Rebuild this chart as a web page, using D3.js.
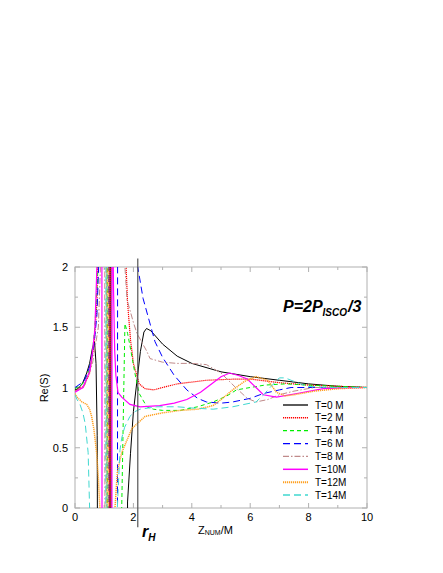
<!DOCTYPE html>
<html lang="en">
<head>
<meta charset="utf-8">
<script src="https://d3js.org/d3.v7.min.js"></script>
<style>
  body { margin: 0; background: #fff; }
  text { font-family: "Liberation Sans", Arial, sans-serif; }
</style>
</head>
<body>
<script>
// values; +/-3 marks a branch that runs off the plot (pole)
var t0x = [0,0.1,0.25,0.4,0.5,0.6,0.67,0.72,0.76,0.8,1.19,1.2,1.23,1.24,1.76,1.8,1.9,2.0,2.12,2.24,2.36,2.45,2.6,3.0,3.5,4.0,5.0,6.0,7.0,8.0,9.0,10];
var t0y = [0.98,0.99,1.03,1.12,1.2,1.33,1.38,1.2,0.6,-3,-3,3,3,-3,-3,0.05,0.45,0.8,1.05,1.3,1.46,1.49,1.47,1.36,1.26,1.2,1.13,1.09,1.06,1.03,1.01,1.0];

var t2x = [0,0.3,0.5,0.65,0.75,0.82,1.17,1.18,1.21,1.22,1.7,1.75,1.8,1.9,2.0,2.2,2.4,2.7,3.0,3.5,4.5,5.5,6.0,7.0,8.0,9.0,10];
var t2y = [0.97,1.01,1.12,1.35,1.7,3,3,-3,-3,3,3,2.0,1.7,1.4,1.2,1.03,0.99,0.98,1.0,1.03,1.06,1.07,1.07,1.04,1.02,1.01,1.0];

var t4x = [0,0.3,0.5,0.6,0.68,0.79,0.83,1.11,1.12,1.56,1.6,1.65,1.71,1.8,1.88,2.05,2.2,2.46,2.68,3.0,3.6,4.2,4.73,5.2,5.53,6.0,6.5,7.2,8.0,9.0,10];
var t4y = [0.99,1.04,1.15,1.3,1.5,2.0,3,3,-3,-3,0.0,0.7,1.53,1.45,1.35,1.12,0.95,0.84,0.82,0.81,0.81,0.84,0.88,0.93,0.98,1.0,1.02,1.03,1.02,1.01,1.0];

var t6x = [0,0.3,0.5,0.65,0.75,0.81,0.84,1.15,1.16,1.45,1.46,2.1,2.15,2.33,2.74,3.0,3.4,3.83,4.2,4.5,5.0,5.4,6.0,6.45,7.0,7.4,8.4,10];
var t6y = [1.0,1.05,1.17,1.35,1.6,2.0,3,3,-3,-3,3,3,2.0,1.74,1.38,1.25,1.1,0.98,0.91,0.88,0.87,0.88,0.91,0.95,0.98,1.0,1.0,1.0];

var t8x = [0,0.3,0.6,0.8,0.9,0.95,1.02,1.03,1.07,1.08,1.65,1.71,1.78,2.0,2.12,2.46,2.57,3.0,3.5,4.0,4.5,5.0,5.5,5.9,6.2,6.6,7.0,7.5,8.2,10];
var t8y = [0.97,1.0,1.2,1.5,2.2,3,3,-3,-3,3,3,2.0,1.73,1.54,1.45,1.3,1.24,1.21,1.2,1.2,1.19,1.12,1.0,0.91,0.88,0.9,0.94,0.97,1.0,1.0];

var t10x = [0,0.27,0.51,0.6,0.68,0.75,0.78,0.92,0.93,1.26,1.27,1.32,1.36,1.4,1.47,1.6,1.88,2.23,2.9,3.4,3.83,4.3,4.73,5.0,5.3,5.6,5.9,6.2,6.45,6.9,7.6,8.5,10];
var t10y = [0.96,1.0,1.14,1.3,1.48,2.0,3,3,-3,-3,3,1.8,1.3,1.1,0.96,0.92,0.86,0.84,0.85,0.87,0.9,0.96,1.04,1.09,1.12,1.1,1.07,1.0,0.94,0.92,0.95,0.99,1.0];

var t12x = [0,0.07,0.24,0.4,0.5,0.57,0.65,0.74,0.8,0.85,0.88,1.09,1.1,1.13,1.14,1.33,1.37,1.45,1.6,1.95,2.4,3.0,3.6,4.2,4.73,5.0,5.4,5.8,6.2,6.6,6.9,7.2,7.5,8.2,9.0,10];
var t12y = [0.95,0.92,0.88,0.86,0.82,0.76,0.65,0.46,0.25,0.0,-3,-3,3,3,-3,-3,0.0,0.3,0.46,0.66,0.76,0.79,0.81,0.82,0.85,0.9,0.98,1.05,1.09,1.06,0.96,0.93,0.94,0.97,0.99,1.0];

var t14x = [0,0.07,0.17,0.27,0.35,0.45,0.5,0.53,1.05,1.06,1.09,1.1,1.4,1.45,1.54,1.6,1.7,1.88,2.05,2.23,2.8,3.5,4.0,4.73,5.4,6.2,6.5,6.68,7.0,7.2,7.4,7.94,8.7,10];
var t14y = [0.94,0.9,0.86,0.79,0.7,0.46,0.0,-3,-3,3,3,-3,-3,0.0,0.48,0.58,0.67,0.76,0.8,0.82,0.84,0.84,0.83,0.82,0.84,0.88,0.95,1.0,1.08,1.08,1.06,1.01,1.0,1.0];

var seriesNames = ["T=0 M", "T=2 M", "T=4 M", "T=6 M", "T=8 M", "T=10M", "T=12M", "T=14M"];
var seriesX = [t0x, t2x, t4x, t6x, t8x, t10x, t12x, t14x];
var seriesY = [t0y, t2y, t4y, t6y, t8y, t10y, t12y, t14y];
var colors = ["#000000", "#ff0000", "#00ee00", "#0000ff", "#c08a8a", "#ff00ff", "#ffa020", "#40d8d0"];
var dashes = ["none", "1.2,0.8", "4,3", "7,4", "6,2,1.5,2", "none", "1.2,0.8", "7,4"];
var widths = [1, 1.2, 1, 1, 1, 1.2, 1.5, 1];

var xTicks = [0, 2, 4, 6, 8, 10];
var yTicks = [0, 0.5, 1, 1.5, 2];
var rH = 2.15;

var margin = {top: 267, left: 75},
    width = 292,
    height = 241;

var svg = d3.select("body").append("svg")
    .attr("width", 443)
    .attr("height", 573);

var g = svg.append("g")
    .attr("transform", "translate(" + margin.left + "," + margin.top + ")");

var x = d3.scaleLinear().domain([0, 10]).range([0, width]);
var y = d3.scaleLinear().domain([0, 2]).range([height, 0]);

g.append("clipPath").attr("id", "clip")
  .append("rect").attr("width", width).attr("height", height);

// frame
g.append("rect")
    .attr("width", width).attr("height", height)
    .attr("fill", "none").attr("stroke", "#b0b0b0").attr("stroke-width", 1);

// ticks on all four sides, pointing inward
var tickCol = "#b0b0b0";
d3.range(0, 11, 1).forEach(function(v) {
    var len = v % 2 === 0 ? 5 : 3;
    g.append("line").attr("x1", x(v)).attr("x2", x(v)).attr("y1", height).attr("y2", height - len).attr("stroke", tickCol);
    g.append("line").attr("x1", x(v)).attr("x2", x(v)).attr("y1", 0).attr("y2", len).attr("stroke", tickCol);
});
d3.range(0, 2.01, 0.25).forEach(function(v) {
    var len = (Math.round(v * 4) % 2 === 0) ? 5 : 3;
    g.append("line").attr("y1", y(v)).attr("y2", y(v)).attr("x1", 0).attr("x2", len).attr("stroke", tickCol);
    g.append("line").attr("y1", y(v)).attr("y2", y(v)).attr("x1", width).attr("x2", width - len).attr("stroke", tickCol);
});

g.selectAll(".xl").data(xTicks).enter().append("text")
    .attr("x", function(d) { return x(d); })
    .attr("y", height + 13)
    .attr("text-anchor", "middle")
    .attr("font-size", 11)
    .text(function(d) { return d; });

g.selectAll(".yl").data(yTicks).enter().append("text")
    .attr("x", -7)
    .attr("y", function(d) { return y(d) + 4; })
    .attr("text-anchor", "end")
    .attr("font-size", 11)
    .text(function(d) { return d; });

// curves
var line = d3.line()
    .x(function(d) { return x(d[0]); })
    .y(function(d) { return y(d[1]); });

var curves = g.append("g").attr("clip-path", "url(#clip)");
seriesNames.forEach(function(name, i) {
    curves.append("path")
        .datum(d3.zip(seriesX[i], seriesY[i]))
        .attr("d", line)
        .attr("fill", "none")
        .attr("stroke", colors[i])
        .attr("stroke-width", widths[i])
        .attr("stroke-dasharray", dashes[i]);
});

// horizon marker
g.append("line")
    .attr("x1", x(rH)).attr("x2", x(rH))
    .attr("y1", y(2.07)).attr("y2", y(-0.16))
    .attr("stroke", "#555").attr("stroke-width", 1.2);

// legend
var leg = svg.append("g");
seriesNames.forEach(function(name, i) {
    var ly = 405 + i * 12.86;
    leg.append("line")
        .attr("x1", 283).attr("x2", 308).attr("y1", ly).attr("y2", ly)
        .attr("stroke", colors[i])
        .attr("stroke-width", i === 6 ? 2 : widths[i] + 0.3)
        .attr("stroke-dasharray", dashes[i]);
    leg.append("text")
        .attr("x", 315).attr("y", ly + 3.5)
        .attr("font-size", 10)
        .text(name);
});

// title
var title = svg.append("text")
    .attr("x", 283).attr("y", 312)
    .attr("font-size", 16).attr("font-weight", "bold").attr("font-style", "italic");
title.append("tspan").text("P=2P");
title.append("tspan").attr("font-size", 10).attr("dy", 4).text("ISCO");
title.append("tspan").attr("dy", -4).attr("dx", 1).text("/3");

// axis titles
svg.append("text")
    .attr("transform", "translate(48,388) rotate(-90)")
    .attr("text-anchor", "middle")
    .attr("font-size", 11)
    .text("Re(S)");

var xt = svg.append("text").attr("x", 198).attr("y", 534).attr("font-size", 11);
xt.append("tspan").text("Z");
xt.append("tspan").attr("font-size", 7).attr("dy", 1).text("NUM");
xt.append("tspan").attr("dy", -1).text("/M");

var rt = svg.append("text").attr("x", 142).attr("y", 537)
    .attr("font-weight", "bold").attr("font-style", "italic").attr("font-size", 16);
rt.append("tspan").text("r");
rt.append("tspan").attr("font-size", 10).attr("dy", 4).text("H");
</script>
</body>
</html>
